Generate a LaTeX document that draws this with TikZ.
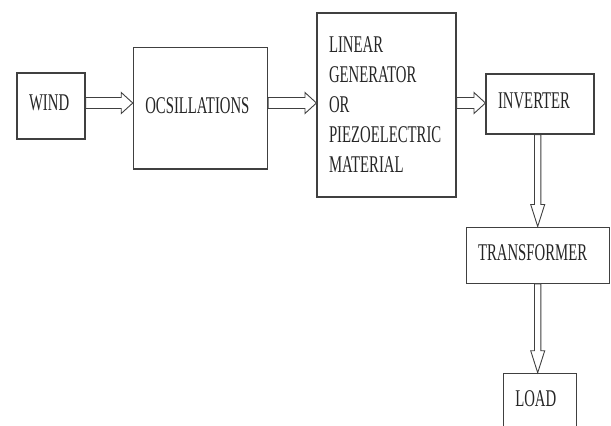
\documentclass[tikz,border=0pt]{standalone}
\usepackage{fontspec}
\usetikzlibrary{calc}
\newfontfamily\boxfont[FakeStretch=0.615]{Liberation Serif}
\definecolor{blockline}{RGB}{64,64,64}
\definecolor{blocktext}{RGB}{38,38,38}

\tikzset{
  block/.style={draw=blockline, line width=1.1pt, fill=white, text=blocktext,
    font=\boxfont\fontsize{24}{30}\selectfont, align=left,
    inner xsep=12pt, inner ysep=0pt},
  oneline/.style={block, text depth=6pt},
  % hollow arrow: shaft half width, head half width, head length
  hollow/.style n args={3}{draw=blockline, line width=0.9pt, fill=white,
    to path={($(\tikztostart)!#1!90:(\tikztotarget)$)
      -- ($(\tikztotarget)!#3!(\tikztostart)!#1!-90:(\tikztostart)$)
      -- ($(\tikztotarget)!#3!(\tikztostart)!#2!-90:(\tikztostart)$)
      -- (\tikztotarget)
      -- ($(\tikztotarget)!#3!(\tikztostart)!#2!90:(\tikztostart)$)
      -- ($(\tikztotarget)!#3!(\tikztostart)!#1!90:(\tikztostart)$)
      -- ($(\tikztostart)!#1!-90:(\tikztotarget)$) -- cycle}},
  harrow/.style={hollow={5.5pt}{10.5pt}{11.5pt}},
  varrow/.style={hollow={3.2pt}{7pt}{22pt}}
}

\begin{document}
\begin{tikzpicture}[x=1pt, y=-1pt]
    \clip (0,0) rectangle (611,426);
    \fill[white] (0,0) rectangle (611,426);

    % Blocks
    \node[oneline, text width=44pt, minimum height=66pt] (wind) at (51,106) {WIND};
    \node[oneline, text width=110.4pt, minimum height=121.3pt] (osc) at (200.5,108.3) {OCSILLATIONS};
    \node[block, text width=115pt, minimum height=184pt] (gen) at (386.5,105) {LINEAR\\GENERATOR\\OR\\PIEZOELECTRIC\\MATERIAL};
    \node[oneline, text width=84pt, minimum height=60pt] (inv) at (540,104) {INVERTER};
    \node[oneline, text width=119.3pt, minimum height=56.3pt] (trans) at (537.7,255.2) {TRANSFORMER};
    \node[oneline, text width=49.4pt, minimum height=56pt] (load) at (540,401.3) {LOAD};

    % Arrows
    \coordinate (axis) at (0,103);
    \draw[harrow] (wind.east |- axis) to (osc.west |- axis);
    \draw[harrow] (osc.east |- axis) to (gen.west |- axis);
    \draw[harrow] (gen.east |- axis) to (inv.west |- axis);
    \draw[varrow] (inv.south -| trans.north) to (trans.north);
    \draw[varrow] (trans.south) to (load.north -| trans.south);
\end{tikzpicture}
\end{document}
